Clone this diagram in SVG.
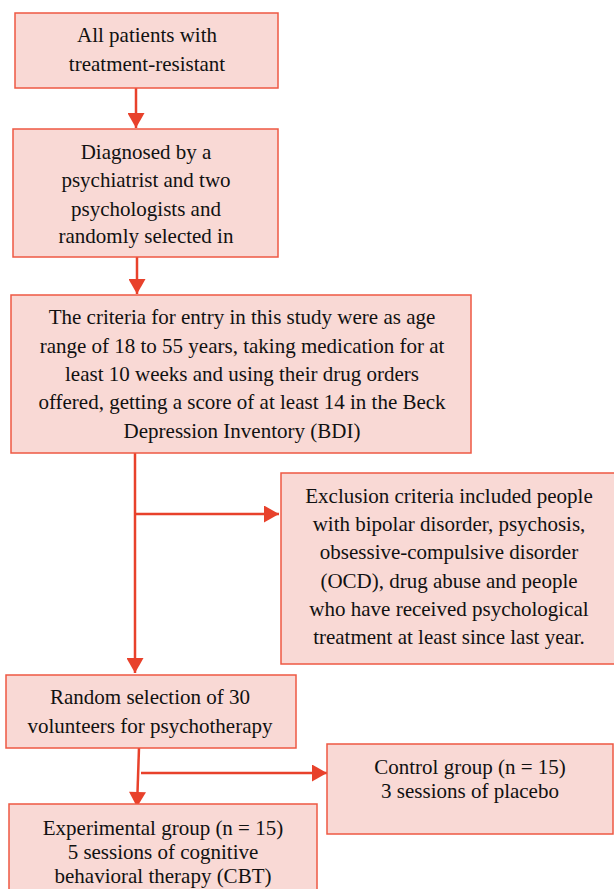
<svg xmlns="http://www.w3.org/2000/svg" width="614" height="889" viewBox="0 0 614 889">
<style>
.box{fill:#f9d9d5;stroke:#ee5843;stroke-width:1.5}
.t{font-family:'Liberation Serif','Times New Roman',serif;font-size:21px;fill:#111111;text-anchor:middle}
.c{stroke:#e8412b;stroke-width:2.5;fill:none}
</style>
<defs>
<marker id="ah" markerUnits="userSpaceOnUse" markerWidth="17" markerHeight="17" viewBox="0 0 15 17" refX="15" refY="8.5" orient="auto">
<path d="M0,0 L15,8.5 L0,17 Z" fill="#e8412b"/>
</marker>
</defs>
<rect width="614" height="889" fill="#ffffff"/>
<g id="connectors">
<line class="c" x1="136" y1="88" x2="136" y2="128" marker-end="url(#ah)"/>
<line class="c" x1="137" y1="257" x2="137" y2="294" marker-end="url(#ah)"/>
<line class="c" x1="135" y1="453" x2="135" y2="673" marker-end="url(#ah)"/>
<line class="c" x1="135" y1="514" x2="279" y2="514" marker-end="url(#ah)"/>
<line class="c" x1="139" y1="748" x2="137" y2="807" marker-end="url(#ah)"/>
<line class="c" x1="141" y1="773" x2="327" y2="773" marker-end="url(#ah)"/>
</g>
<g id="n1">
<rect class="box" x="15" y="13" width="263" height="75"/>
<text class="t" x="147" y="42">All patients with</text>
<text class="t" x="147" y="71">treatment-resistant</text>
</g>
<g id="n2">
<rect class="box" x="13" y="129" width="265" height="128"/>
<text class="t" x="146" y="159">Diagnosed by a</text>
<text class="t" x="146" y="187">psychiatrist and two</text>
<text class="t" x="146" y="216">psychologists and</text>
<text class="t" x="146" y="243">randomly selected in</text>
</g>
<g id="n3">
<rect class="box" x="11" y="295" width="460" height="158"/>
<text class="t" x="242" y="324">The criteria for entry in this study were as age</text>
<text class="t" x="242" y="353">range of 18 to 55 years, taking medication for at</text>
<text class="t" x="242" y="381">least 10 weeks and using their drug orders</text>
<text class="t" x="242" y="409">offered, getting a score of at least 14 in the Beck</text>
<text class="t" x="242" y="438">Depression Inventory (BDI)</text>
</g>
<g id="n4">
<rect class="box" x="281" y="473" width="340" height="191"/>
<text class="t" x="449" y="503">Exclusion criteria included people</text>
<text class="t" x="449" y="531">with bipolar disorder, psychosis,</text>
<text class="t" x="449" y="559">obsessive-compulsive disorder</text>
<text class="t" x="449" y="588">(OCD), drug abuse and people</text>
<text class="t" x="449" y="616">who have received psychological</text>
<text class="t" x="449" y="644">treatment at least since last year.</text>
</g>
<g id="n5">
<rect class="box" x="6" y="675" width="290" height="73"/>
<text class="t" x="150" y="704">Random selection of 30</text>
<text class="t" x="150" y="733">volunteers for psychotherapy</text>
</g>
<g id="n6">
<rect class="box" x="327" y="744" width="286" height="90"/>
<text class="t" x="470" y="774">Control group (n = 15)</text>
<text class="t" x="470" y="798">3 sessions of placebo</text>
</g>
<g id="n7">
<rect class="box" x="9" y="804" width="308" height="95"/>
<text class="t" x="163" y="835">Experimental group (n = 15)</text>
<text class="t" x="163" y="859">5 sessions of cognitive</text>
<text class="t" x="163" y="883">behavioral therapy (CBT)</text>
</g>
</svg>
